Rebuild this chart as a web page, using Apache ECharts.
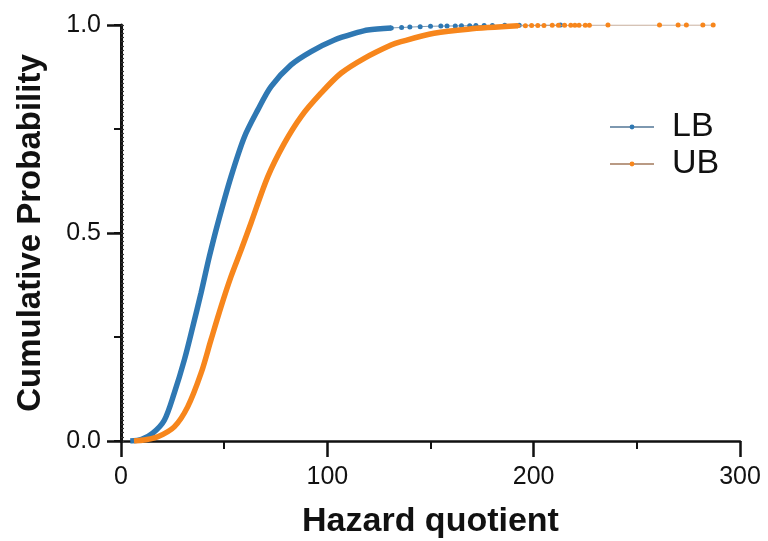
<!DOCTYPE html>
<html>
<head>
<meta charset="utf-8">
<title>Cumulative Probability</title>
<script src="https://cdn.jsdelivr.net/npm/echarts@6/dist/echarts.min.js"></script>
<style>
    html, body, #main {
        width: 100%;
        height: 100%;
        margin: 0;
        padding: 0;
        overflow: hidden;
        background-color: #ffffff;
    }
</style>
</head>
<body>
<div id="main"></div>
<script>
    // dense part of the curves
    var lbX = [4.5, 10, 15.4, 21.0, 25.8, 30.7, 34.8, 38.8, 42.8, 46.9, 53.3, 59.8, 66.3, 72.7, 82.4, 92.1, 103.4, 114.7, 119.6, 131];
    var lbY = [0.000, 0.004, 0.019, 0.050, 0.115, 0.195, 0.275, 0.356, 0.443, 0.523, 0.635, 0.731, 0.796, 0.852, 0.904, 0.936, 0.964, 0.982, 0.988, 0.993];
    var ubX = [6.3, 12, 17.8, 25.8, 32.3, 38.8, 43.6, 48.5, 53.3, 58.2, 63.0, 71.1, 79.2, 87.3, 96.9, 106.6, 117.9, 130.9, 135.7, 151.7, 168.1, 192.3];
    var ubY = [0.000, 0.003, 0.010, 0.034, 0.082, 0.163, 0.243, 0.323, 0.395, 0.459, 0.524, 0.635, 0.716, 0.780, 0.836, 0.884, 0.920, 0.952, 0.960, 0.980, 0.990, 0.998];

    // sparse tail points
    var lbTailX = [131, 136, 140, 145, 150, 155, 158, 162, 165, 169, 172, 176, 180, 186, 193, 213];
    var lbTailY = [0.993, 0.994, 0.995, 0.996, 0.997, 0.9973, 0.9975, 0.9978, 0.998, 0.9983, 0.9985, 0.9988, 0.999, 0.9993, 0.9996, 1.0];
    var ubTailX = [192.3, 196, 199, 202, 205, 209, 212, 215, 218, 220, 222, 225, 227, 236, 261, 270, 274, 282, 287];
    var ubTailY = [0.998, 0.9982, 0.9985, 0.9987, 0.999, 0.9991, 0.9992, 0.9993, 0.9994, 0.9994, 0.9995, 0.9995, 0.9996, 0.9997, 0.9998, 0.9998, 0.9999, 0.9999, 1.0];

    var blue = '#2f78b3';
    var orange = '#f7861c';

    function pairs(xs, ys) {
        var out = [];
        for (var i = 0; i < xs.length; i++) {
            out.push([xs[i], ys[i]]);
        }
        return out;
    }

    var myChart = echarts.init(document.getElementById('main'));
    var font = 'Liberation Sans, Arial, sans-serif';

    var option = {
        animation: false,
        grid: {left: 121, right: 28, top: 25, bottom: 100, outerBoundsMode: 'none'},
        legend: {
            data: ['LB', 'UB'],
            orient: 'vertical',
            left: 604,
            top: 105,
            itemWidth: 44,
            itemHeight: 6,
            itemGap: 3,
            textStyle: {fontSize: 34, color: '#111', fontFamily: font, padding: [0, 0, 0, 13]}
        },
        xAxis: {
            type: 'value',
            min: 0,
            max: 300,
            interval: 100,
            name: 'Hazard quotient',
            nameLocation: 'middle',
            nameGap: 64,
            nameTextStyle: {fontSize: 34, fontWeight: 'bold', color: '#111', fontFamily: font},
            axisLine: {lineStyle: {color: '#111', width: 2.5}},
            axisTick: {length: 16, lineStyle: {color: '#111', width: 2.5}},
            minorTick: {show: true, splitNumber: 2, length: 8, lineStyle: {color: '#111', width: 2}},
            axisLabel: {fontSize: 25, color: '#111', margin: 24, fontFamily: font},
            splitLine: {show: false}
        },
        yAxis: [{
            type: 'value',
            position: 'left',
            min: 0,
            max: 1,
            interval: 0.5,
            name: 'Cumulative Probability',
            nameLocation: 'middle',
            nameGap: 74,
            nameTextStyle: {fontSize: 33, fontWeight: 'bold', color: '#111', fontFamily: font},
            axisLine: {lineStyle: {color: '#111', width: 3}},
            axisTick: {length: 14, lineStyle: {color: '#111', width: 2.5}},
            axisLabel: {fontSize: 25, color: '#111', margin: 20, fontFamily: font,
                formatter: function (v) { return v.toFixed(1); }},
            splitLine: {show: false}
        }, {
            // shorter ticks at the quarters
            type: 'value',
            position: 'left',
            offset: 0,
            min: 0,
            max: 1,
            interval: 0.25,
            axisLine: {show: false},
            axisTick: {length: 7, lineStyle: {color: '#111', width: 2}},
            axisLabel: {show: false},
            splitLine: {show: false}
        }, {
            // tiny inside minor ticks
            type: 'value',
            position: 'left',
            offset: 0,
            min: 0,
            max: 1,
            interval: 0.25,
            axisLine: {show: false},
            axisTick: {show: true, inside: true, length: 3, lineStyle: {color: '#333', width: 1.2}},
            minorTick: {show: true, splitNumber: 25, length: 3, lineStyle: {color: '#333', width: 1.2}},
            axisLabel: {show: false},
            splitLine: {show: false}
        }],
        series: [{
            name: 'LB curve',
            type: 'line',
            data: pairs(lbX, lbY),
            smooth: 0.3,
            showSymbol: false,
            lineStyle: {color: blue, width: 5.5},
            z: 3
        }, {
            name: 'UB curve',
            type: 'line',
            data: pairs(ubX, ubY),
            smooth: 0.3,
            showSymbol: false,
            lineStyle: {color: orange, width: 5.5},
            z: 4
        }, {
            name: 'LB',
            type: 'line',
            data: pairs(lbTailX, lbTailY),
            symbol: 'circle',
            symbolSize: 5,
            itemStyle: {color: blue},
            lineStyle: {color: '#7d98b0', width: 1},
            z: 3
        }, {
            name: 'UB',
            type: 'line',
            data: pairs(ubTailX, ubTailY),
            symbol: 'circle',
            symbolSize: 5,
            itemStyle: {color: orange},
            lineStyle: {color: '#b99a84', width: 1},
            z: 4
        }]
    };
    myChart.setOption(option);
</script>
</body>
</html>
